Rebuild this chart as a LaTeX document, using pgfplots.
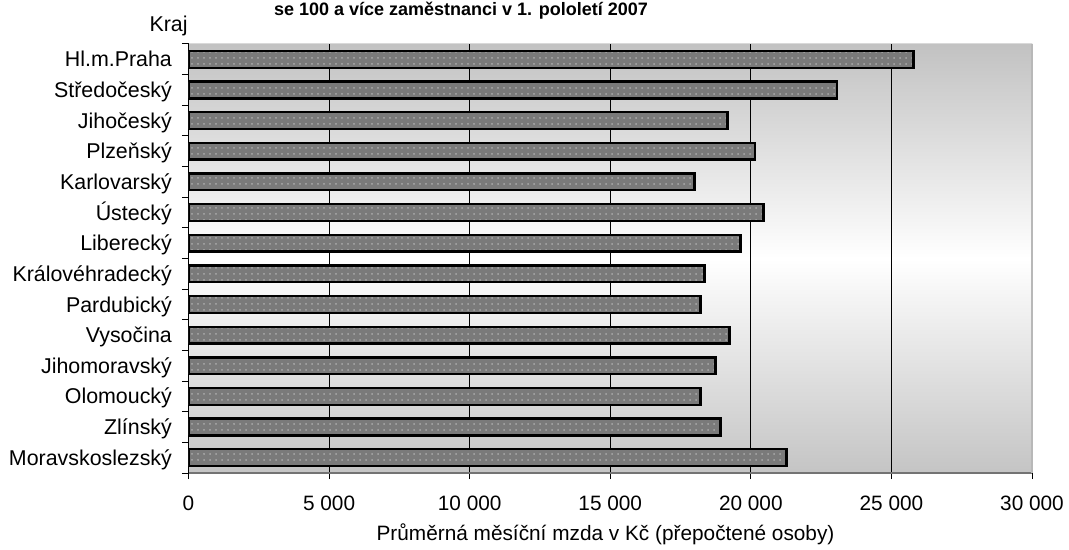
\documentclass[border=0pt]{standalone}
\usepackage{fontspec}
\setmainfont{Liberation Sans}
\usepackage{pgfplots}
\pgfplotsset{compat=1.18}
\usetikzlibrary{patterns}
\definecolor{barfill}{HTML}{7A7A7A}
\definecolor{bardots}{HTML}{ABABAB}
\newcommand{\lbl}{\fontsize{10.4}{12.5}\selectfont}
\begin{document}
\begin{tikzpicture}
\useasboundingbox (0,0) rectangle (534.5pt,275pt);
\begin{axis}[
  at={(94.25pt,38.5pt)}, anchor=south west,
  scale only axis, width=421.75pt, height=214.5pt,
  xbar, bar width=8.4pt,
  xmin=0, xmax=30000, ymin=-0.5, ymax=13.5, y dir=reverse,
  axis x line*=bottom, axis y line*=left,
  x axis line style={-, black!55, line width=1pt},
  y axis line style={-, black, line width=0.6pt},
  axis background/.style={top color=black!24, bottom color=black!23, middle color=white},
  xtick={0,5000,...,30000},
  xticklabels={0,5 000,10 000,15 000,20 000,25 000,30 000},
  ytick={0,...,13},
  yticklabels={Hl.m.Praha,Středočeský,Jihočeský,Plzeňský,Karlovarský,Ústecký,Liberecký,Královéhradecký,Pardubický,Vysočina,Jihomoravský,Olomoucký,Zlínský,Moravskoslezský},
  minor ytick={-0.5,0.5,...,13.5},
  tick align=outside, major tick length=3pt, minor tick length=3.25pt,
  tick style={black, line width=0.5pt},
  major y tick style={draw=none},
  xmajorgrids, major x grid style={black, line width=0.5pt},
  tick label style={font=\lbl, inner sep=0pt},
  xticklabel style={anchor=base, yshift=-15.5pt},
  yticklabel style={font=\fontsize{10.7}{12.5}\selectfont, anchor=base east, xshift=-5.1pt, yshift=-3.8pt},
  after end axis/.code={
    \draw[black!28, line width=1pt] (rel axis cs:1,0) -- (rel axis cs:1,1);
    \draw[black!15, line width=0.5pt] (rel axis cs:0,1) -- (rel axis cs:1,1);
  },
]
\addplot[draw=black, line width=1.2pt, preaction={fill=barfill}, pattern=dots, pattern color=bardots]
  coordinates {(25780,0) (23070,1) (19170,2) (20150,3) (17990,4) (20450,5) (19630,6)
               (18350,7) (18210,8) (19240,9) (18740,10) (18210,11) (18920,12) (21270,13)};
\end{axis}
\node[anchor=base, inner sep=0pt, font=\bfseries\fontsize{9}{10}\selectfont] at (230.5pt,267pt)
  {se 100 a více zaměstnanci v 1. pololetí 2007};
\node[anchor=base east, inner sep=0pt, font=\fontsize{10.7}{12.5}\selectfont] at (94pt,259pt) {Kraj};
\node[anchor=base, inner sep=0pt, font=\lbl] at (302.75pt,4.5pt) {Průměrná měsíční mzda v Kč (přepočtené osoby)};
\end{tikzpicture}
\end{document}
